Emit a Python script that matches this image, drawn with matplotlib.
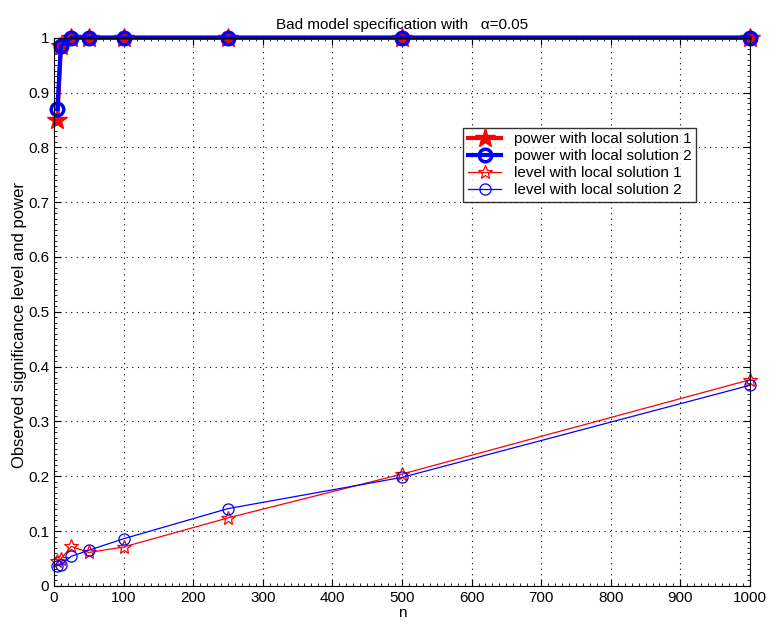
import matplotlib
matplotlib.use("Agg")
import matplotlib.pyplot as plt
from matplotlib.ticker import MultipleLocator

plt.rcParams['font.family'] = ['Liberation Sans', 'DejaVu Sans']

n = [5, 10, 25, 50, 100, 250, 500, 1000]
power_sol1 = [0.85, 0.985, 1.0, 1.0, 1.0, 1.0, 1.0, 1.0]
power_sol2 = [0.87, 0.985, 1.0, 1.0, 1.0, 1.0, 1.0, 1.0]
level_sol1 = [0.046, 0.049, 0.072, 0.061, 0.071, 0.124, 0.204, 0.376]
level_sol2 = [0.037, 0.039, 0.054, 0.065, 0.086, 0.141, 0.198, 0.366]

fig = plt.figure(figsize=(7.7, 6.28), dpi=100)
ax = fig.add_axes([0.070, 0.067, 0.904, 0.873])

ax.plot(n, power_sol1, color='red', lw=3, marker='*', ms=15, clip_on=False,
        label='power with local solution 1')
ax.plot(n, power_sol2, color='blue', lw=3, marker='o', ms=9, mew=2.5,
        mfc='none', clip_on=False, label='power with local solution 2')
ax.plot(n, level_sol1, color='red', lw=0.9, marker='*', ms=10, mfc='none',
        mew=0.9, clip_on=False, label='level with local solution 1')
ax.plot(n, level_sol2, color='blue', lw=0.9, marker='o', ms=8, mfc='none',
        mew=0.9, clip_on=False, label='level with local solution 2')

ax.set_xlim(0, 1000)
ax.set_ylim(0, 1.0)
ax.set_xticks(range(0, 1001, 100))
ax.set_yticks([i / 10 for i in range(11)])
ax.set_yticklabels(['0', '0.1', '0.2', '0.3', '0.4', '0.5', '0.6', '0.7',
                    '0.8', '0.9', '1'])
ax.xaxis.set_minor_locator(MultipleLocator(10))
ax.yaxis.set_minor_locator(MultipleLocator(0.01))
ax.grid(True, which='major', color='black', linestyle=(0, (1, 4)), lw=0.8)
ax.tick_params(which='both', direction='in', top=True, right=True)
ax.tick_params(which='major', labelsize=11, length=5)
ax.tick_params(which='minor', length=2.5)

ax.set_title('Bad model specification with   \u03b1=0.05', fontsize=11, pad=6)
ax.set_xlabel('n', fontsize=11, labelpad=1)
ax.set_ylabel('Observed significance level and power', fontsize=12)
ax.yaxis.set_label_coords(-0.039, 0.476)

leg = ax.legend(loc='upper left', bbox_to_anchor=(0.588, 0.836), fontsize=11,
                frameon=True, fancybox=False, edgecolor='black',
                borderpad=0.3, labelspacing=0.2, handlelength=2.2,
                borderaxespad=0)
leg.get_frame().set_linewidth(1.0)

fig.savefig('out.png', dpi=100)
